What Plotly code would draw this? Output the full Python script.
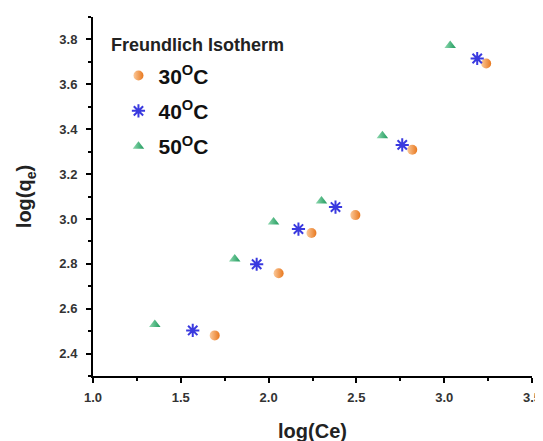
import plotly.graph_objects as go

# log(Ce) and log(qe) values for the three temperatures
x30 = [1.693, 2.057, 2.244, 2.494, 2.818, 3.239]
y30 = [2.481, 2.758, 2.937, 3.017, 3.308, 3.693]
x40 = [1.568, 1.932, 2.170, 2.381, 2.761, 3.188]
y40 = [2.503, 2.798, 2.955, 3.053, 3.330, 3.715]
x50 = [1.352, 1.807, 2.028, 2.301, 2.648, 3.034]
y50 = [2.530, 2.821, 2.986, 3.080, 3.371, 3.773]
names = ["30<sup>O</sup>C", "40<sup>O</sup>C", "50<sup>O</sup>C"]
legend_title = "Freundlich Isotherm"

FONT = "Liberation Sans, Arial, sans-serif"

fig = go.Figure()
fig.add_trace(go.Scatter(
    x=x30, y=y30, mode="markers", name=names[0], legendgroup="a",
    marker=dict(symbol="circle", size=10, color="#FBC99A",
                gradient=dict(type="horizontal", color="#E8781E"),
                line=dict(width=0))))
fig.add_trace(go.Scatter(
    x=x40, y=y40, mode="markers", name=names[1], legendgroup="b",
    marker=dict(symbol="asterisk-open", size=11, color="#3A3ADF",
                line=dict(width=2, color="#3A3ADF"))))
fig.add_trace(go.Scatter(
    x=x50, y=y50, mode="markers", name=names[2], legendgroup="c",
    marker=dict(symbol="triangle-up", size=10, color="#8FD9B0",
                gradient=dict(type="horizontal", color="#1E9A5C"),
                line=dict(width=0))))

axis_common = dict(
    showline=True, linecolor="black", linewidth=2,
    ticks="outside", ticklen=5, tickwidth=2, tickcolor="black",
    showgrid=False, zeroline=False, mirror=False, automargin=False,
    tickfont=dict(family=FONT, size=13, color="#333333", weight="bold"),
)

fig.update_xaxes(range=[1.0, 3.5], tick0=1.0, dtick=0.5, tickformat=".1f",
                 ticklabelstandoff=3,
                 minor=dict(ticks="outside", ticklen=3, tickwidth=2,
                            tickcolor="black", dtick=0.25, showgrid=False),
                 title=dict(text="<b>log(Ce)</b>", standoff=20,
                            font=dict(family=FONT, size=20, color="#222222")),
                 **axis_common)
fig.update_yaxes(range=[2.3, 3.9], tick0=2.4, dtick=0.2, tickformat=".1f",
                 ticklabelstandoff=6,
                 minor=dict(ticks="outside", ticklen=3, tickwidth=2,
                            tickcolor="black", dtick=0.1, showgrid=False),
                 title=dict(text="<b>log(q<sub>e</sub>)</b>", standoff=22,
                            font=dict(family=FONT, size=20, color="#222222")),
                 **axis_common)

# body of the html page adds an 8px offset; margins compensate for it
fig.update_layout(
    width=543, height=441,
    margin=dict(l=85, r=19, t=9, b=73),
    paper_bgcolor="white", plot_bgcolor="white",
    showlegend=True,
    legend=dict(x=0.058, y=0.893, xanchor="left", yanchor="top",
                bgcolor="rgba(0,0,0,0)", traceorder="grouped",
                tracegroupgap=5,
                font=dict(family=FONT, size=21, color="#111111", weight="bold")),
    annotations=[dict(text="<b>" + legend_title + "</b>", xref="paper", yref="paper",
                      x=0.037, y=0.922, xanchor="left", yanchor="middle",
                      showarrow=False,
                      font=dict(family=FONT, size=18, color="#222222"))],
)

fig.write_html("out.html")
